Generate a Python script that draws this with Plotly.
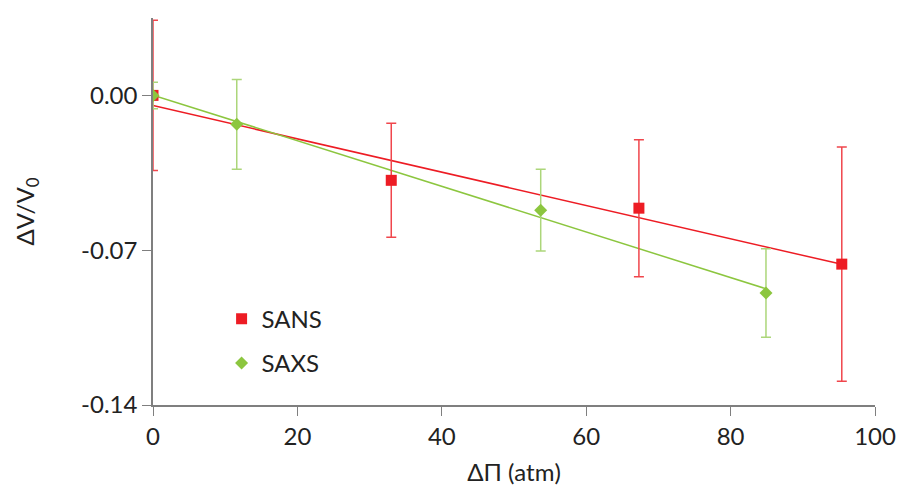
import numpy as np
import plotly.graph_objects as go

# Volume change vs. osmotic pressure difference
sans_x = [0.0, 33.0, 67.3, 95.4]
sans_y = [0.0, -0.0384, -0.0510, -0.0763]
sans_err = [0.034, 0.0258, 0.031, 0.053]

saxs_x = [0.0, 11.6, 53.7, 84.9]
saxs_y = [0.0, -0.0131, -0.0519, -0.0894]
saxs_err = [0.006, 0.0203, 0.0185, 0.020]

x_ticks = [0, 20, 40, 60, 80, 100]
y_ticks = [-0.14, -0.07, 0.00]
y_tick_labels = ["-0.14", "-0.07", "0.00"]

RED = "#ed1c24"
RED_ERR = "#f0464c"
GREEN = "#8cc63f"
GREEN_ERR = "#acd67a"
FONT = "Lato, 'Open Sans', sans-serif"
FS = 24

fig = go.Figure()


def trend(xs, ys):
    slope, icpt = np.polyfit(xs, ys, 1)
    xl = np.array([min(xs), max(xs)])
    return xl, slope * xl + icpt


# linear fits
for xs, ys, col in [(sans_x, sans_y, RED), (saxs_x, saxs_y, GREEN)]:
    xl, yl = trend(xs, ys)
    fig.add_trace(go.Scatter(x=xl, y=yl, mode="lines",
                             line=dict(color=col, width=1.5),
                             showlegend=False, hoverinfo="skip"))

fig.add_trace(go.Scatter(
    x=sans_x, y=sans_y, mode="markers", name="SANS", legendgroup="sans",
    marker=dict(symbol="square", size=11, color=RED),
    error_y=dict(type="data", array=sans_err, color=RED_ERR,
                 thickness=1.5, width=5),
))
fig.add_trace(go.Scatter(
    x=saxs_x, y=saxs_y, mode="markers", name="SAXS", legendgroup="saxs",
    marker=dict(symbol="diamond", size=10, color=GREEN),
    error_y=dict(type="data", array=saxs_err, color=GREEN_ERR,
                 thickness=1.5, width=5),
))

fig.update_layout(
    width=898, height=490,
    margin=dict(l=153, r=23, t=18, b=85, autoexpand=False),
    paper_bgcolor="white", plot_bgcolor="white",
    font=dict(family=FONT, size=FS, color="#222222"),
    legend=dict(x=0.095, y=0.28, xanchor="left", yanchor="top",
                bgcolor="rgba(0,0,0,0)", font=dict(size=FS),
                tracegroupgap=10),
    xaxis=dict(
        range=[0, 100], tickvals=x_ticks, showgrid=False, zeroline=False,
        showline=True, linecolor="#7f7f7f", linewidth=1.5,
        ticks="outside", ticklen=9, tickcolor="#7f7f7f", automargin=False,
        title=dict(text="ΔΠ (atm)", font=dict(size=FS), standoff=16),
    ),
    yaxis=dict(
        range=[-0.14, 0.035], tickvals=y_ticks, ticktext=y_tick_labels,
        showgrid=False, zeroline=False, automargin=False,
        showline=True, linecolor="#7f7f7f", linewidth=1.5,
        ticks="outside", ticklen=9, tickcolor="#7f7f7f",
        title=dict(text="ΔV/V<sub>0</sub>", font=dict(size=FS), standoff=40),
    ),
)

fig.write_html("out.html")
